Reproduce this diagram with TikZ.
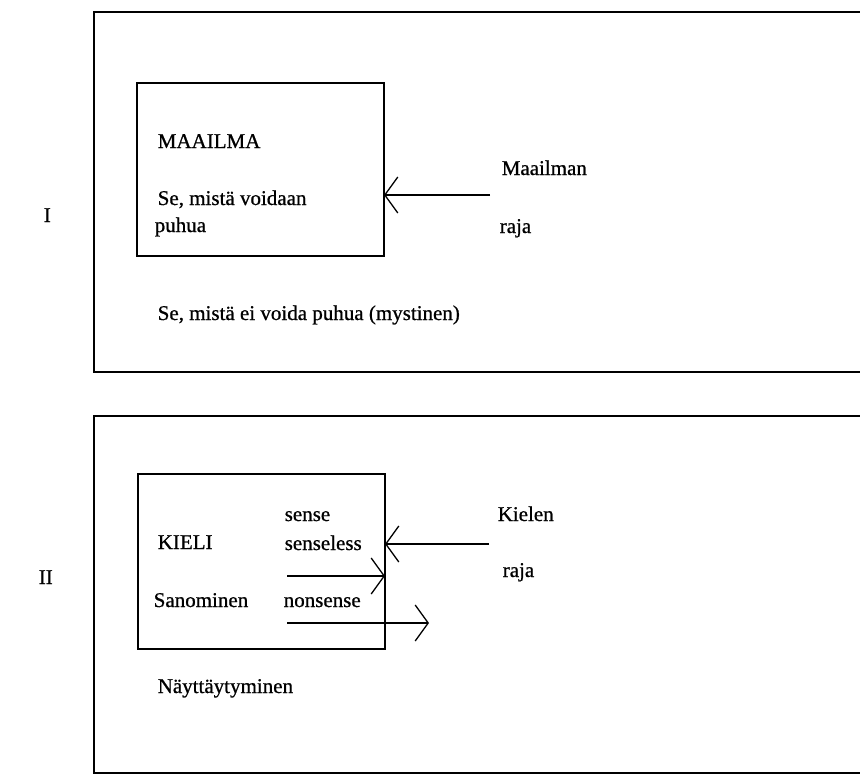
\documentclass[tikz,border=0pt]{standalone}
\usepackage{fontspec}
\setmainfont{Liberation Serif}[FakeBold=0.8]
\usepackage{tikz}
\usetikzlibrary{arrows.meta}

\begin{document}
\begin{tikzpicture}[x=1pt, y=-1pt, line width=1.5pt,
  txt/.style = {anchor=base west, inner sep=0pt, font=\fontsize{21}{25}\selectfont},
  box/.style = {draw, line width=1.8pt},
  barb/.style = {-{Straight Barb[length=13pt, width=36pt, line width=1.3pt]}, line width=1.4pt}]
  \useasboundingbox (0,0) rectangle (860,774);
  \clip (0,0) rectangle (860,774);
  % I: maailma
  \draw[box] (875,12) -- (94,12) -- (94,372) -- (875,372);
  \draw[box] (137,83) rectangle (384,256);
  \coordinate (mright) at (384,195);
  \coordinate (mstart) at (490,195);
  \node[txt] (num1) at (43,222) {I};
  \node[txt] (maailma) at (157,148) {MAAILMA};
  \node[txt] (voidaan) at (157,205) {Se, mistä voidaan};
  \node[txt] (puhua) at (154,232) {puhua};
  \node[txt] (mraja1) at (501,175) {Maailman};
  \node[txt] (mraja2) at (499,233) {raja};
  \node[txt] (mystinen) at (157,320) {Se, mistä ei voida puhua (mystinen)};
  \draw[barb] (mstart) -- (mright);
  % II: kieli
  \draw[box] (875,416) -- (94,416) -- (94,773) -- (875,773);
  \draw[box] (138,474) rectangle (385,649);
  \coordinate (kright) at (385,544);
  \coordinate (kstart) at (489,544);
  \coordinate (s1) at (287,576);
  \coordinate (e1) at (385,576);
  \coordinate (s2) at (287,623);
  \coordinate (e2) at (429,623);
  \node[txt] (num2) at (38,584) {II};
  \node[txt] (kieli) at (157,549) {KIELI};
  \node[txt] (sense) at (284,521) {sense};
  \node[txt] (senseless) at (284,550) {senseless};
  \node[txt] (sanominen) at (153,607) {Sanominen};
  \node[txt] (nonsense) at (283,607) {nonsense};
  \node[txt] (kraja1) at (497,521) {Kielen};
  \node[txt] (kraja2) at (502,577) {raja};
  \node[txt] (nayttay) at (157,693) {Näyttäytyminen};
  \draw[barb] (kstart) -- (kright);
  \draw[barb] (s1) -- (e1);
  \draw[barb] (s2) -- (e2);
\end{tikzpicture}
\end{document}
